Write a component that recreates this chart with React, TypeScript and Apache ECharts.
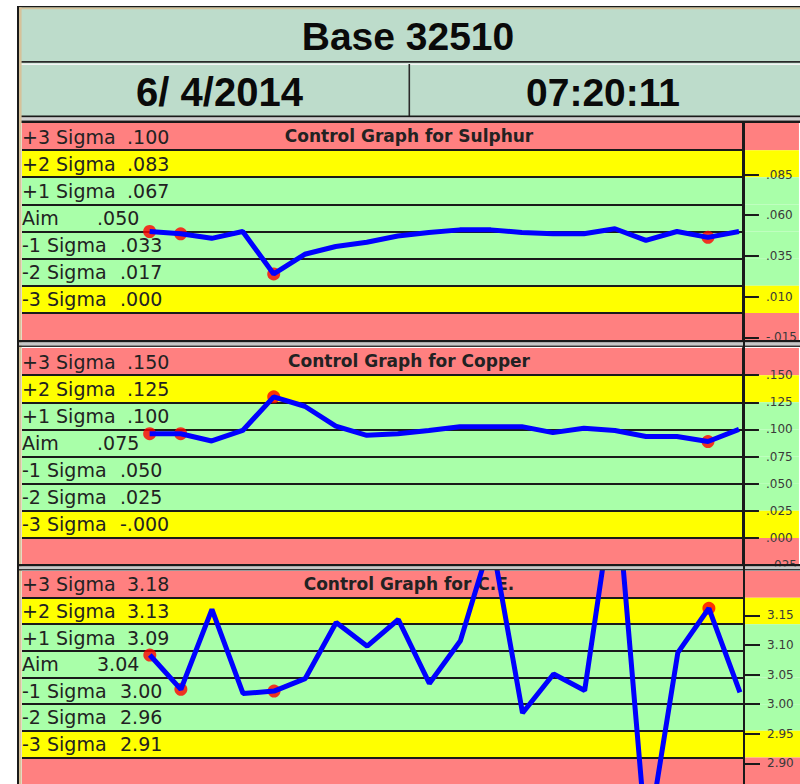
import React, { useEffect, useRef } from "react";
import * as echarts from "echarts";

// ---------------- data ----------------
const headerTitle = "Base 32510";
const headerDate = "6/ 4/2014";
const headerTime = "07:20:11";

const panelNames = ["Sulphur", "Copper", "C.E."];
const aimValues = [0.05, 0.075, 3.045];
const sigmaValues = [0.1 / 6, 0.025, 0.045];
const sigmaNames = ["+3 Sigma", "+2 Sigma", "+1 Sigma", "Aim", "-1 Sigma", "-2 Sigma", "-3 Sigma"];

const sulphurLimitText = [".100", ".083", ".067", ".050", ".033", ".017", ".000"];
const copperLimitText = [".150", ".125", ".100", ".075", ".050", ".025", "-.000"];
const ceLimitText = ["3.18", "3.13", "3.09", "3.04", "3.00", "2.96", "2.91"];

const sulphurAxisTicks = [-0.015, 0.01, 0.035, 0.06, 0.085];
const copperAxisTicks = [-0.025, 0, 0.025, 0.05, 0.075, 0.1, 0.125, 0.15];
const ceAxisTicks = [2.9, 2.95, 3.0, 3.05, 3.1, 3.15];

const sulphurValues = [
  0.05, 0.0486, 0.0458, 0.05, 0.0239, 0.036, 0.0408, 0.0434, 0.0472, 0.0494,
  0.051, 0.051, 0.0494, 0.0486, 0.0486, 0.0517, 0.0446, 0.05, 0.0464, 0.05,
];
const copperValues = [
  0.096, 0.096, 0.0893, 0.099, 0.13, 0.1213, 0.103, 0.0945, 0.096, 0.099,
  0.1025, 0.1025, 0.1025, 0.097, 0.101, 0.099, 0.0935, 0.0935, 0.0888, 0.1,
];
const ceValues = [
  3.083, 3.025, 3.16, 3.018, 3.022, 3.043, 3.138, 3.098, 3.143, 3.035,
  3.107, 3.28, 2.985, 3.051, 3.023, 3.38, 2.76, 3.087, 3.162, 3.02,
];
const flaggedSamples = [0, 1, 4, 18];

// ---------------- layout / style ----------------
const PINK = "#FF8080";
const YELLOW = "#FFFF00";
const GREEN = "#A9FFA9";
const DARK = "#1a1a1a";
const GRID_LEFT = 22;
const GRID_WIDTH = 778;
const GRID_TOPS = [123, 348, 571];
const GRID_H = 217;
const X_MIN = -4.115;
const X_MAX = 20.933;
const X_RIGHT = 19.13;
const LABEL_FONT = "DejaVu Sans";
const LABEL_SIZE = 19;

const panels = [
  { name: panelNames[0], aim: aimValues[0], sigma: sigmaValues[0], limits: sulphurLimitText, ticks: sulphurAxisTicks, values: sulphurValues, decimals: 3 },
  { name: panelNames[1], aim: aimValues[1], sigma: sigmaValues[1], limits: copperLimitText, ticks: copperAxisTicks, values: copperValues, decimals: 3 },
  { name: panelNames[2], aim: aimValues[2], sigma: sigmaValues[2], limits: ceLimitText, ticks: ceAxisTicks, values: ceValues, decimals: 2 },
];

function fmt(v: number, d: number): string {
  let s = v.toFixed(d);
  if (d === 3) s = s.replace(/^(-?)0\./, "$1.");
  return s;
}

function richLabel(name: string, val: string): string {
  const st = name === "Aim" ? "na" : name.startsWith("+") ? "np" : "nm";
  return `{${st}|${name}}{v|${val}}`;
}

const bandColors = [PINK, YELLOW, GREEN, GREEN, GREEN, GREEN, YELLOW, PINK];

function buildOption(): any {
  const grid = panels.map((_, p) => ({
    left: GRID_LEFT, top: GRID_TOPS[p], width: GRID_WIDTH, height: GRID_H, show: false,
  }));
  const xAxis = panels.map((_, p) => ({
    type: "value", gridIndex: p, min: X_MIN, max: X_MAX, show: false,
  }));
  const yAxis = panels.map((pn, p) => ({
    type: "value", gridIndex: p, position: "right", offset: -56,
    min: pn.aim - 4 * pn.sigma, max: pn.aim + 4 * pn.sigma, z: 5,
    axisLine: { show: true, onZero: false, lineStyle: { color: DARK, width: 2 } },
    axisTick: { show: true, length: 16, customValues: pn.ticks, lineStyle: { color: DARK, width: 2 } },
    axisLabel: {
      show: true, customValues: pn.ticks, margin: 23,
      formatter: (v: number) => fmt(v, pn.decimals),
      color: "#3a3a3a", fontSize: 12, fontFamily: LABEL_FONT,
    },
    splitLine: { show: false },
  }));

  const richBase = { fontFamily: LABEL_FONT, fontSize: LABEL_SIZE, color: "#222" };
  const series: any[] = [];
  panels.forEach((pn, p) => {
    const bands = bandColors.map((c, k) => {
      const upper = pn.aim + (4 - k) * pn.sigma;
      const lower = upper - pn.sigma;
      return [
        { name: k < 7 ? richLabel(sigmaNames[k], pn.limits[k]) : "", yAxis: upper, itemStyle: { color: c } },
        { yAxis: lower },
      ];
    });
    const lines = [3, 2, 1, 0, -1, -2, -3].map((k) => {
      const v = pn.aim + k * pn.sigma;
      return [{ coord: [X_MIN, v] }, { coord: [X_RIGHT, v] }];
    });
    series.push({
      type: "line", xAxisIndex: p, yAxisIndex: p, z: 4, silent: true,
      data: pn.values.map((v, i) => [i, v]),
      showSymbol: false, symbol: "none",
      lineStyle: { color: "#0000FF", width: 5 },
      markArea: {
        silent: true, z: 1,
        itemStyle: { borderWidth: 0 },
        label: {
          show: true, position: "insideLeft", distance: 0, offset: [0, 0],
          formatter: (params: any) => params.name,
          ...richBase,
          rich: {
            np: { ...richBase, width: 105 },
            nm: { ...richBase, width: 98 },
            na: { ...richBase, width: 75 },
            v: { ...richBase },
          },
        },
        emphasis: { disabled: true },
        data: bands,
      },
      markLine: {
        silent: true, z: 2, symbol: ["none", "none"],
        label: { show: false },
        lineStyle: { color: DARK, width: 2, type: "solid" },
        emphasis: { disabled: true },
        data: lines,
      },
    });
    series.push({
      type: "scatter", xAxisIndex: p, yAxisIndex: p, z: 3, silent: true,
      symbol: "circle", symbolSize: 13,
      itemStyle: { color: "#FF0000" },
      data: flaggedSamples.map((i) => [i, pn.values[i]]),
    });
  });

  const rect = (x: number, y: number, w: number, h: number, fill: string, z = 10) => ({
    type: "rect", z, silent: true, shape: { x, y, width: w, height: h }, style: { fill },
  });
  const txt = (x: number, y: number, text: string, size: number, family: string, z = 11) => ({
    type: "text", z, silent: true, x, y,
    style: {
      text, fill: "#0a0a0a", fontSize: size, fontWeight: "bold", fontFamily: family,
      align: "center", verticalAlign: "middle", textAlign: "center", textVerticalAlign: "middle",
    },
  });

  const graphic: any[] = [
    // header
    rect(19, 7, 781, 110, "#BDDCCB", 0),
    rect(17, 6, 783, 1.6, DARK),
    rect(19, 7.6, 781, 1.6, "#D6C29A"),
    rect(19, 61, 781, 1.8, "#2a2a2a"),
    rect(19, 63.4, 781, 1.6, "#F4F4F4"),
    rect(408.5, 64, 1.6, 52, "#2a2a2a"),
    rect(17, 115.5, 783, 2, DARK),
    rect(19, 117.5, 781, 3, "#CFCFCF"),
    rect(19, 120.5, 781, 2.5, DARK),
    txt(408, 36.5, headerTitle, 39, "Liberation Sans"),
    txt(219.5, 92, headerDate, 40, "Liberation Sans"),
    txt(603, 92, headerTime, 39, "Liberation Sans"),
    // left border
    rect(17, 6, 2, 778, DARK),
    rect(19, 7.6, 2.6, 777, "#D6C29A"),
    // separators between panels
    rect(17, 340, 783, 2.5, DARK),
    rect(19, 342.5, 781, 3, "#C8C8C8"),
    rect(19, 345.5, 781, 1.5, "#333"),
    rect(17, 564, 783, 2.5, DARK),
    rect(19, 566.5, 781, 2.5, "#C8C8C8"),
    rect(19, 569, 781, 1.5, "#333"),
    // right axis divider through separators
    rect(743, 121, 2, 663, DARK, 12),
  ];
  panels.forEach((pn, p) => {
    graphic.push({
      type: "text", z: 2, silent: true, x: 409, y: GRID_TOPS[p] + 12.5,
      style: {
        text: `Control Graph for ${pn.name}`, fill: "#222", fontSize: 17, fontWeight: "bold",
        fontFamily: LABEL_FONT, align: "center", verticalAlign: "middle",
        textAlign: "center", textVerticalAlign: "middle",
      },
    });
  });

  return {
    animation: false,
    backgroundColor: "#ffffff",
    tooltip: { show: false },
    grid, xAxis, yAxis, series, graphic,
  };
}

export default function App() {
  const ref = useRef<HTMLDivElement>(null);
  useEffect(() => {
    if (!ref.current) return;
    const chart = echarts.init(ref.current, undefined, { renderer: "svg" });
    chart.setOption(buildOption());
    return () => chart.dispose();
  }, []);
  return (
    <div
      ref={ref}
      style={{ position: "absolute", left: 0, top: 0, width: 800, height: 784 }}
    />
  );
}
